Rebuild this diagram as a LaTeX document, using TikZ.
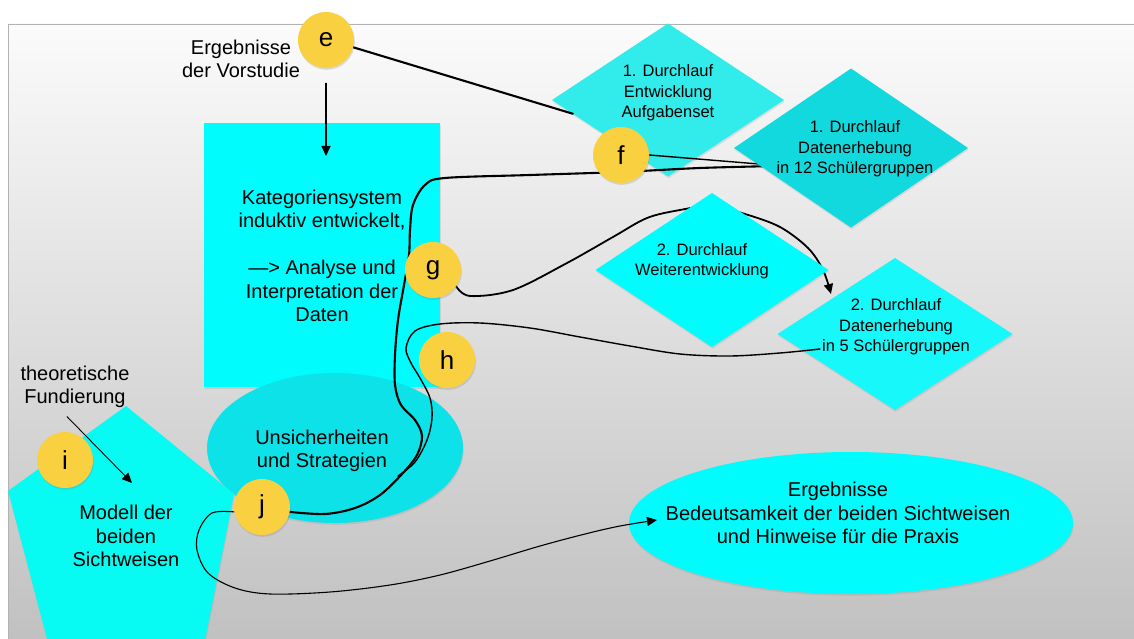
\documentclass[tikz,border=0pt]{standalone}
\usepackage{fontspec}
\setmainfont{Liberation Sans}
\usetikzlibrary{shapes.geometric,arrows.meta,calc,shadows}

\definecolor{bgtop}{RGB}{251,251,251}
\definecolor{bgbot}{RGB}{192,192,192}
\definecolor{frameline}{RGB}{178,178,178}
\definecolor{cyanA}{RGB}{0,252,252}
\definecolor{cyanB}{RGB}{50,236,236}
\definecolor{cyanC}{RGB}{18,217,222}
\definecolor{cyanD}{RGB}{22,248,250}
\definecolor{cyanE}{RGB}{14,226,233}
\definecolor{cyanF}{RGB}{8,251,242}
\definecolor{badgeyellow}{RGB}{249,209,64}

\pgfdeclarelayer{bg}
\pgfdeclarelayer{base}
\pgfdeclarelayer{under}
\pgfdeclarelayer{dia}
\pgfdeclarelayer{over}
\pgfdeclarelayer{dtop}
\pgfsetlayers{bg,base,under,dia,over,dtop,main}

\tikzset{
  softshadow/.style={drop shadow={shadow xshift=0.6pt, shadow yshift=-1.8pt, opacity=0.18}},
  shapefill/.style={inner sep=0pt, outer sep=0pt, softshadow},
  dia/.style={shapefill, diamond},
  blob/.style={shapefill, ellipse},
  badge/.style={circle, fill=badgeyellow, minimum size=56pt, inner sep=0pt,
    font=\fontsize{26}{26}\selectfont,
    drop shadow={shadow xshift=0.8pt, shadow yshift=-1.8pt, opacity=0.25}},
  bodytext/.style={align=center, font=\fontsize{20}{23.5}\selectfont},
  diatext/.style={align=center, font=\fontsize{16.5}{20.5}\selectfont},
  pen/.style={draw=black, line cap=round, line join=round},
  heavy/.style={pen, line width=2.1pt},
  medium/.style={pen, line width=1.4pt},
  slim/.style={pen, line width=1.1pt},
  arrowtip/.style={-{Triangle[length=10pt,width=9pt]}},
}

\begin{document}
\begin{tikzpicture}[x=1pt,y=-1pt]
\useasboundingbox (0,0) rectangle (1134,639);

% slide background
\begin{pgfonlayer}{bg}
  \fill[white] (0,0) rectangle (1134,639);
  \shade[top color=bgtop, bottom color=bgbot] (8,24) rectangle (1140,645);
  \draw[frameline, line width=0.8pt] (8,645) -- (8,24) -- (1140,24);
\end{pgfonlayer}

% main blocks
\begin{pgfonlayer}{base}
  \node[shapefill, fill=cyanA, minimum width=236pt, minimum height=264pt] (kat) at (322,255) {};
  \node[blob, fill=cyanE, minimum width=256pt, minimum height=150pt] (unsi) at (335,448) {};
  \fill[cyanF, softshadow] (126,406) -- (234,494) -- (203,650) -- (50,650) -- (8,491) -- cycle;
  \coordinate (modell) at (126,536);
  \node[blob, fill=cyanA, minimum width=444pt, minimum height=142pt] (erg) at (851,523) {};
\end{pgfonlayer}

% run diamonds
\begin{pgfonlayer}{dia}
  \node[dia, fill=cyanA, minimum width=233pt, minimum height=154pt] (dW) at (712,270) {};
  \node[dia, fill=cyanD, minimum width=235pt, minimum height=152pt] (d5) at (895,334) {};
  \node[dia, fill=cyanB, minimum width=232pt, minimum height=153pt] (d1) at (668,100) {};
\end{pgfonlayer}
\begin{pgfonlayer}{dtop}
  \node[dia, fill=cyanC, minimum width=234pt, minimum height=159pt] (d2) at (851,148) {};
\end{pgfonlayer}

% letter badges
\node[badge] (e) at (326,40) {e};
\node[badge] (f) at (621,155) {f};
\node[badge] (g) at (433,270) {g};
\node[badge] (h) at (447,360) {h};
\node[badge] (i) at (65,460) {i};
\node[badge] (j) at (262,507) {j};

% free labels
\node[bodytext] (vor) at (241,59) {Ergebnisse\\der Vorstudie};
\node[bodytext] (theo) at (75,387) {theoretische\\Fundierung};

% block texts
\node[bodytext] at (322,256) {Kategoriensystem\\induktiv entwickelt,\\\mbox{}\\—> Analyse und\\Interpretation der\\Daten};
\node[bodytext] at (322,451) {Unsicherheiten\\und Strategien};
\node[bodytext] at (modell) {Modell der\\beiden\\Sichtweisen};
\node[bodytext] at (838,513) {Ergebnisse\\Bedeutsamkeit der beiden Sichtweisen\\und Hinweise für die Praxis};
\node[diatext] at (668,93) {1. Durchlauf\\Entwicklung\\Aufgabenset};
\node[diatext] at (855,149) {1. Durchlauf\\Datenerhebung\\in 12 Schülergruppen};
\node[diatext] at (702,261) {2. Durchlauf\\Weiterentwicklung};
\node[diatext] at (896,327) {2. Durchlauf\\Datenerhebung\\in 5 Schülergruppen};

\coordinate (hend) at ($(unsi.center)+(63,28)$);

% g: second run, passing behind the development diamond
\begin{pgfonlayer}{under}
  \draw[pen, line width=1.8pt, arrowtip] plot[smooth, tension=0.55] coordinates {
    (g.-35) (470,296) (513,290) (567,263) (613,237) (647,218) (680,210)
    (712,206) (745,214) (780,227) (808,248) (823,270) (831,294)};
\end{pgfonlayer}

\begin{pgfonlayer}{over}
  % e
  \draw[heavy] (e.-15) -- ($(d1.west)!0.18!(d1.south)$);
  \draw[slim, arrowtip] ($(e.south)+(0,15)$) -- ($(e.south |- kat.north)+(0,33)$);
  % f
  \draw[medium] (f.east) -- ($(d2.center)+(-80,17)$);
  \draw[heavy] plot[smooth, tension=0.55] coordinates {
    ($(d2.center)+(-75,18)$) (700,168) (620,172) (530,175) (445,178)
    (425,185) (413,205) (410,230) (409,255) (404,285) (398,320) (395,355)
    (395,385) (401,405) (415,420) (422,436) (417,455) (402,474) (380,495)
    (355,508) (325,514) (j.-10)};
  % h
  \draw[medium] plot[smooth, tension=0.55] coordinates {
    ($(d5.center)+(-75,15)$) (780,353) (730,356) (680,354) (630,346) (580,337)
    (530,328) (480,323) (440,324) (415,331) (406,348) (411,363) (420,378)
    (430,398) (432,418) (427,440) (415,462) (hend)};
  % j
  \draw[slim, arrowtip] plot[smooth, tension=0.55] coordinates {
    (j.190) (212,513) (199,530) (197,550) (208,573) (235,588) (270,594)
    (330,592) (390,585) (440,575) (490,561) (540,546) (585,534) (620,526)
    ($(erg.west)+(28,-3)$)};
  % theoretical foundation
  \draw[pen, line width=0.9pt, arrowtip] ($(theo.south)+(-8,5)$) -- ($(modell)+(6,-53)$);
\end{pgfonlayer}
\end{tikzpicture}
\end{document}
